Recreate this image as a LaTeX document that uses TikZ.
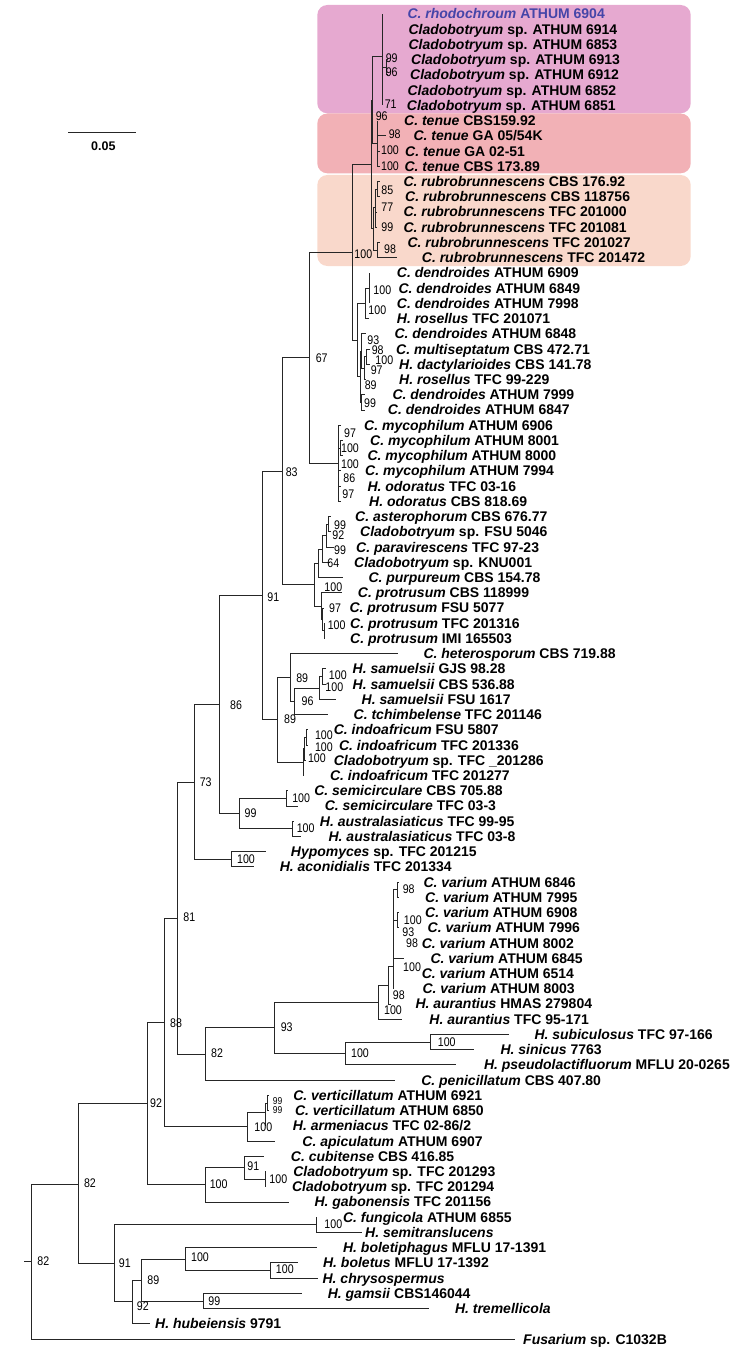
\documentclass[tikz,border=0pt]{standalone}
\usepackage{fontspec}
\setmainfont{Liberation Sans}
\newfontfamily\bsfont[FakeStretch=0.85]{Liberation Sans}
\definecolor{cladepink}{HTML}{E6A9D0}
\definecolor{cladered}{HTML}{F2B1B6}
\definecolor{cladepeach}{HTML}{F9D8CB}
\definecolor{rhodoblue}{HTML}{4545A8}
\tikzset{
  branch/.style={draw=black!85, line width=0.9pt},
  taxon/.style={font=\fontsize{14}{16}\selectfont\bfseries, inner sep=0pt, anchor=west, text height=10pt, text depth=0pt},
  support/.style={font=\bsfont\fontsize{12.5}{14}\selectfont, inner sep=0pt, text height=9pt, text depth=0pt},
  smallsupport/.style={support, font=\bsfont\fontsize{10}{11}\selectfont, text height=7.2pt},
  cladebox/.style={rounded corners=10pt}
}
\begin{document}
\begin{tikzpicture}[x=1pt, y=-1pt]
\useasboundingbox (0,0) rectangle (747,1351);

% highlighted clades
\fill[cladebox, cladepink] (317.3,5) rectangle (690.7,113.3);
\fill[cladebox, cladered] (317.3,113.5) rectangle (690.7,173.3);
\fill[cladebox, cladepeach] (317.3,175) rectangle (690.7,266);

% scale bar
\coordinate (sbl) at (68.3,132.6);
\coordinate (sbr) at (136,132.6);
\draw[branch] (sbl) -- (sbr);
\node[support, font=\fontsize{12.5}{14}\selectfont\bfseries] (sblab) at (103.3,146) {0.05};

% tips and taxon names, one row each
\foreach \tx/\lx/\sn/\st [count=\i] in {
  382.3/407.3/{\color{rhodoblue}C. rhodochroum}/{\color{rhodoblue}ATHUM 6904},
  382.3/408.3/Cladobotryum/{sp. ATHUM 6914},
  382.3/408.3/Cladobotryum/{sp. ATHUM 6853},
  388/411/Cladobotryum/{sp. ATHUM 6913},
  388/410/Cladobotryum/{sp. ATHUM 6912},
  382.3/407.3/Cladobotryum/{sp. ATHUM 6852},
  382.3/406.7/Cladobotryum/{sp. ATHUM 6851},
  377.7/404/{C. tenue}/{CBS159.92},
  386/413.3/{C. tenue}/{GA 05/54K},
  380/405/{C. tenue}/{GA 02-51},
  380/404.3/{C. tenue}/{CBS 173.89},
  380/403.3/{C. rubrobrunnescens}/{CBS 176.92},
  380/405/{C. rubrobrunnescens}/{CBS 118756},
  377/403.3/{C. rubrobrunnescens}/{TFC 201000},
  377/403.3/{C. rubrobrunnescens}/{TFC 201081},
  380/407.3/{C. rubrobrunnescens}/{TFC 201027},
  396.7/421.7/{C. rubrobrunnescens}/{TFC 201472},
  369.3/396.7/{C. dendroides}/{ATHUM 6909},
  369.3/398.3/{C. dendroides}/{ATHUM 6849},
  369.3/396.7/{C. dendroides}/{ATHUM 7998},
  369.3/396.7/{H. rosellus}/{TFC 201071},
  366/394.3/{C. dendroides}/{ATHUM 6848},
  370/396/{C. multiseptatum}/{CBS 472.71},
  370/399/{H. dactylarioides}/{CBS 141.78},
  366/399/{H. rosellus}/{TFC 99-229},
  365/392.3/{C. dendroides}/{ATHUM 7999},
  365/387.7/{C. dendroides}/{ATHUM 6847},
  341/364/{C. mycophilum}/{ATHUM 6906},
  343/370/{C. mycophilum}/{ATHUM 8001},
  343/367.3/{C. mycophilum}/{ATHUM 8000},
  341/365/{C. mycophilum}/{ATHUM 7994},
  341/367.3/{H. odoratus}/{TFC 03-16},
  341/369/{H. odoratus}/{CBS 818.69},
  331/355/{C. asterophorum}/{CBS 676.77},
  331/360/Cladobotryum/{sp. FSU 5046},
  334/356/{C. paravirescens}/{TFC 97-23},
  330/354/Cladobotryum/{sp. KNU001},
  342.7/368.3/{C. purpureum}/{CBS 154.78},
  341.7/357.7/{C. protrusum}/{CBS 118999},
  324/349.3/{C. protrusum}/{FSU 5077},
  325/350/{C. protrusum}/{TFC 201316},
  325/350/{C. protrusum}/{IMI 165503},
  398.2/423.3/{C. heterosporum}/{CBS 719.88},
  326/352.5/{H. samuelsii}/{GJS 98.28},
  326/352.5/{H. samuelsii}/{CBS 536.88},
  336.1/361.5/{H. samuelsii}/{FSU 1617},
  328.4/353.5/{C. tchimbelense}/{TFC 201146},
  308/333.6/{C. indoafricum}/{FSU 5807},
  308/338.9/{C. indoafricum}/{TFC 201336},
  306/333.6/Cladobotryum/{sp. TFC \_201286},
  303/329.8/{C. indoafricum}/{TFC 201277},
  288/314.1/{C. semicirculare}/{CBS 705.88},
  297.7/324.6/{C. semicirculare}/{TFC 03-3},
  293.5/319.7/{H. australasiaticus}/{TFC 99-95},
  301.2/328.4/{H. australasiaticus}/{TFC 03-8},
  265.7/290.7/Hypomyces/{sp. TFC 201215},
  254/279.6/{H. aconidialis}/{TFC 201334},
  399/423.3/{C. varium}/{ATHUM 6846},
  399/425/{C. varium}/{ATHUM 7995},
  399/425/{C. varium}/{ATHUM 6908},
  399/427.5/{C. varium}/{ATHUM 7996},
  393.6/421.6/{C. varium}/{ATHUM 8002},
  404/430.3/{C. varium}/{ATHUM 6845},
  393.6/421.6/{C. varium}/{ATHUM 6514},
  393.6/422.3/{C. varium}/{ATHUM 8003},
  391/415.3/{H. aurantius}/{HMAS 279804},
  402.4/429.2/{H. aurantius}/{TFC 95-171},
  508.8/534.3/{H. subiculosus}/{TFC 97-166},
  473.5/500.3/{H. sinicus}/{7763},
  455.8/483.8/{H. pseudolactifluorum}/{MFLU 20-0265},
  395/421.1/{C. penicillatum}/{CBS 407.80},
  269/293.1/{C. verticillatum}/{ATHUM 6921},
  269/294.8/{C. verticillatum}/{ATHUM 6850},
  265.7/292.7/{H. armeniacus}/{TFC 02-86/2},
  275.3/302.2/{C. apiculatum}/{ATHUM 6907},
  264.3/290.7/{C. cubitense}/{CBS 416.85},
  265.7/293.1/Cladobotryum/{sp. TFC 201293},
  265.7/291.9/Cladobotryum/{sp. TFC 201294},
  288.7/314.3/{H. gabonensis}/{TFC 201156},
  316.7/342.9/{C. fungicola}/{ATHUM 6855},
  362/365/{H. semitranslucens}/{},
  316.7/342.9/{H. boletiphagus}/{MFLU 17-1391},
  297.6/322.9/{H. boletus}/{MFLU 17-1392},
  318/322.4/{H. chrysospermus}/{},
  302.4/327.6/{H. gamsii}/{CBS146044},
  428.6/454.8/{H. tremellicola}/{},
  150/155/{H. hubeiensis}/{9791},
  515/523/Fusarium/{sp. C1032B}}{
  \pgfmathsetmacro\yy{14+(\i-1)*15.23}
  \coordinate (t\i) at (\tx,\yy);
  \node[taxon] (l\i) at (\lx,\yy) {\textit{\sn} \st};
}

% internal nodes
\coordinate (R) at (382.3,56.7);
\coordinate (R45) at (386,67.3);
\coordinate (T) at (377.7,143.5);
\coordinate (X) at (372.7,100.1);
\coordinate (Rb12) at (377.7,189.1);
\coordinate (Rb1) at (375,207.3);
\coordinate (Rb2) at (377.7,250.1);
\coordinate (Rb) at (373.5,228.5);
\coordinate (C0) at (371.5,164.3);
\coordinate (Da1) at (369.3,288.1);
\coordinate (Da) at (365,303.4);
\coordinate (Db1b) at (366.7,356.7);
\coordinate (Db1a) at (364,368.1);
\coordinate (Db1) at (361.7,351);
\coordinate (Db2) at (361.7,402.4);
\coordinate (Db) at (360,376.7);
\coordinate (D) at (357.3,340);
\coordinate (N100a) at (352.3,252.2);
\coordinate (M1) at (340,448);
\coordinate (M) at (338.3,463.3);
\coordinate (N67) at (309,357.8);
\coordinate (Pa3) at (328,524.2);
\coordinate (Pa2) at (326,535.7);
\coordinate (Pa1) at (322.7,549);
\coordinate (Pa) at (318.3,563.3);
\coordinate (Pr3) at (324,630.8);
\coordinate (Pr2) at (322.7,619.4);
\coordinate (Pr) at (321,606.1);
\coordinate (P) at (314.3,584.7);
\coordinate (N83) at (282.7,471.3);
\coordinate (Sam12) at (322.8,676.5);
\coordinate (SamN) at (319.3,688);
\coordinate (Hs2) at (294.9,701.3);
\coordinate (Hs) at (290,677.5);
\coordinate (I2) at (306.4,737.5);
\coordinate (I1) at (304.5,748.9);
\coordinate (I) at (303,762.2);
\coordinate (H89) at (277.5,719.9);
\coordinate (N91) at (262.7,595.6);
\coordinate (Sc) at (286,798.4);
\coordinate (Au) at (292,828.8);
\coordinate (N99) at (239.3,813.6);
\coordinate (N86) at (219.3,704.6);
\coordinate (Hyp) at (231.7,859.3);
\coordinate (N73) at (194,782);
\coordinate (V6) at (397.8,889.8);
\coordinate (V7) at (397.8,920.2);
\coordinate (V2) at (393.6,966);
\coordinate (V1) at (388.4,985);
\coordinate (V) at (378.6,1002);
\coordinate (SS1) at (430.2,1042);
\coordinate (SS) at (345.6,1053.5);
\coordinate (N93) at (274.7,1027.8);
\coordinate (N82b) at (205.7,1054);
\coordinate (N81) at (177.7,918);
\coordinate (Vt2) at (267.5,1103);
\coordinate (Vt1) at (265.7,1112.6);
\coordinate (Vt) at (247.7,1126.9);
\coordinate (N88) at (164.7,1022.4);
\coordinate (Cu2) at (265.7,1179.2);
\coordinate (Cu1) at (244.3,1167.7);
\coordinate (Cu) at (205.7,1184.9);
\coordinate (N92) at (147.7,1103.6);
\coordinate (Fu) at (316.7,1224.8);
\coordinate (Bo2) at (270.7,1270.5);
\coordinate (Bo) at (185.7,1259);
\coordinate (Ga) at (203.8,1301);
\coordinate (N89l) at (141.9,1280);
\coordinate (N92l) at (132.4,1301.9);
\coordinate (N91l) at (114.3,1263.4);
\coordinate (NB) at (78.3,1184.5);
\coordinate (root) at (31,1261.8);
\coordinate (stub) at (24.3,1261.8);

% branches
\draw[branch] (stub) -- (root);
\foreach \p/\c in {
  R/t1, R/t2, R/t3, R/R45, R/t6, R/t7, R45/t4, R45/t5,
  T/t8, T/t9, T/t10, T/t11, X/R, X/T,
  Rb12/t12, Rb12/t13, Rb1/Rb12, Rb1/t14, Rb1/t15, Rb2/t16, Rb2/t17, Rb/Rb1, Rb/Rb2,
  C0/X, C0/Rb,
  Da1/t18, Da1/t19, Da1/t20, Da/Da1, Da/t21,
  Db1b/t23, Db1b/t24, Db1a/Db1b, Db1a/t25, Db1/t22, Db1/Db1a, Db2/t26, Db2/t27,
  Db/Db1, Db/Db2, D/Da, D/Db, N100a/C0, N100a/D,
  M1/t29, M1/t30, M/t28, M/M1, M/t31, M/t32, M/t33, N67/N100a, N67/M,
  Pa3/t34, Pa3/t35, Pa2/Pa3, Pa2/t36, Pa1/Pa2, Pa1/t37, Pa/Pa1, Pa/t38,
  Pr3/t41, Pr3/t42, Pr2/t40, Pr2/Pr3, Pr/t39, Pr/Pr2, P/Pa, P/Pr, N83/N67, N83/P,
  Sam12/t44, Sam12/t45, SamN/Sam12, SamN/t46, Hs2/SamN, Hs2/t47, Hs/t43, Hs/Hs2,
  I2/t48, I2/t49, I1/I2, I1/t50, I/I1, I/t51, H89/Hs, H89/I, N91/N83, N91/H89,
  Sc/t52, Sc/t53, Au/t54, Au/t55, N99/Sc, N99/Au, N86/N91, N86/N99,
  Hyp/t56, Hyp/t57, N73/N86, N73/Hyp,
  V6/t58, V6/t59, V7/t60, V7/t61, V2/V6, V2/V7, V2/t62, V2/t63, V2/t64, V2/t65,
  V1/V2, V1/t66, V/V1, V/t67,
  SS1/t68, SS1/t69, SS/SS1, SS/t70, N93/V, N93/SS, N82b/N93, N82b/t71,
  N81/N73, N81/N82b,
  Vt2/t72, Vt2/t73, Vt1/Vt2, Vt1/t74, Vt/Vt1, Vt/t75, N88/N81, N88/Vt,
  Cu2/t77, Cu2/t78, Cu1/t76, Cu1/Cu2, Cu/Cu1, Cu/t79, N92/N88, N92/Cu,
  Fu/t80, Fu/t81, Bo2/t83, Bo2/t84, Bo/t82, Bo/Bo2, Ga/t85, Ga/t86,
  N89l/Bo, N89l/Ga, N92l/N89l, N92l/t87, N91l/Fu, N91l/N92l,
  NB/N92, NB/N91l, root/NB, root/t88}
  \draw[branch] (\p) |- (\c);

% support values
\foreach \bx/\by/\bv [count=\j] in {
  363.3/254/100, 321.7/357.7/67, 291.7/472.3/83, 273.3/596.7/91, 236/705/86,
  205.7/781.5/73, 189.3/917.4/81, 176/1023/88, 156/1103/92, 90/1183/82, 43.3/1260.5/82,
  391.7/58.3/99, 391.7/71.7/96, 390.7/104/71, 381.7/115.7/96, 394.7/134/98, 390/150/100,
  390/166/100, 387.3/190/85, 387.3/207.3/77, 387.3/227.3/99, 390/249/98,
  382.3/290/100, 377.3/310/100, 373.3/340/93, 377.7/350/98, 384.3/360/100,
  376.7/370/97, 370.7/385/89, 370/403.3/99,
  350/432.7/97, 350/448.3/100, 350/464/100, 349.3/477.7/86, 348.3/494/97,
  340/525/99, 338.3/535/92, 340/550/99, 333.3/563.3/64, 333.3/586.7/100, 335/608.3/97, 336.7/625/100,
  302.2/677.7/89, 337.8/675/100, 334.3/687.3/100, 307.5/700.7/96, 290/719.3/89,
  323.9/735/100, 323.9/747.3/100, 316.9/758.3/100,
  250.6/813.3/99, 301.2/798.3/100, 305.7/828.3/100, 246/858.7/100,
  217/1052.8/82, 286.7/1027/93, 360/1053.3/100, 446.7/1042/100,
  408.7/889.3/98, 412.8/920/100, 408.3/931.7/93, 412.1/943.3/98, 412.1/966.7/100,
  398.9/995/98, 393/1010/100,
  263.3/1126.7/100,
  253.3/1166/91, 278.3/1178.5/100, 218.7/1184/100,
  333.3/1224/100, 124.8/1263.3/91, 153.3/1280/89, 142.9/1306/92,
  200/1257.3/100, 284.8/1269.3/100, 214.3/1300.7/99}
  \node[support] (bs\j) at (\bx,\by) {\bv};
\node[smallsupport] (bsvt1) at (277.5,1100.5) {99};
\node[smallsupport] (bsvt2) at (277.5,1109.5) {99};
\end{tikzpicture}
\end{document}
